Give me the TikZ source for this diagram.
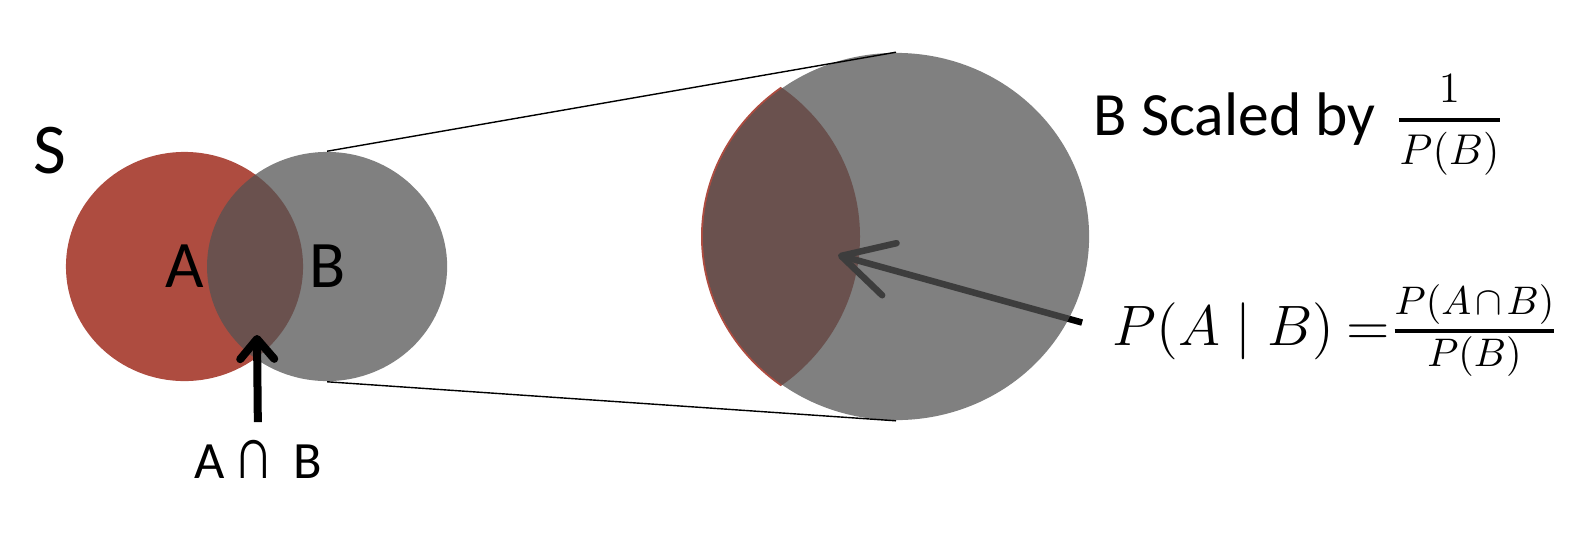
\RequirePackage{fix-cm}
\documentclass[tikz,border=0pt]{standalone}
\usepackage{amsmath}
\usepackage{fontspec}
\setmainfont{Carlito}
\usetikzlibrary{arrows.meta,shapes.geometric}
\usepackage{xcolor}
\definecolor{setred}{RGB}{174,76,64}
\definecolor{setgray}{RGB}{83,83,83}

\begin{document}
\begin{tikzpicture}[x=0.01cm,y=-0.01cm,node distance=1.425cm,
	setA/.style={ellipse,fill=setred,inner sep=0,minimum width=2.37cm,minimum height=2.29cm,font=\fontsize{18.9}{22}\selectfont},
	setB/.style={ellipse,fill=setgray,fill opacity=0.74,text opacity=1,inner sep=0,minimum width=2.40cm,minimum height=2.29cm,font=\fontsize{18.9}{22}\selectfont},
	bigB/.style={ellipse,fill=setgray,fill opacity=0.74,inner sep=0,minimum width=3.86cm,minimum height=3.67cm},
	txt/.style={inner sep=0,anchor=base west},
	capArrow/.style={line width=0.08cm,-{Straight Barb[length=0.2cm,width=0.34cm,round]}},
	condArrow/.style={line width=0.065cm,-{Straight Barb[length=0.5cm,width=0.54cm,round]}}]
	\useasboundingbox (0,0) rectangle (1576,539);

	\node[setA]		(A) at (184.5,266.5)	{A};
	\node[setB]		(B) [right of=A]		{B};
	\node[txt,font=\fontsize{20.3}{24}\selectfont]	(S) at (33,173)	{S};

	\node[txt,anchor=base,font=\fontsize{14.9}{18}\selectfont]	(AnB) at (258,478)
		{A\kern0.1cm\scalebox{1.05}[1.4]{∩}\kern0.2cm B};
	\coordinate	(capTip) at (257,335);
	\draw[capArrow,shorten <=0.17cm]	(AnB.north) -- (capTip);

	\begin{scope}
		\clip (896,236.5) ellipse (195 and 185.5);
		\fill[setred] (670,236.5) ellipse (190 and 184);
	\end{scope}

	\node[txt,font=\fontsize{16.2}{19}\selectfont]	(Pform) at (1112,345)
		{$P(A\mid B)\mkern4mu{=}\genfrac{}{}{1.1pt}{1}{P(A\mkern2mu\cap\mkern2mu B)}{\rule{0pt}{0.3cm}P(B)}$};
	\coordinate	(condTip) at (838,255);
	\draw[condArrow,shorten <=0.31cm]	(Pform.west) -- (condTip);

	\node[bigB]		(Bbig) at (896,236.5)	{};
	\draw[line width=0.4pt]	(B.north) -- (Bbig.north)
			(B.south) -- (Bbig.south);

	\node[txt,font=\fontsize{17.5}{21}\selectfont]	(scaled) at (1093,135)
		{B Scaled by\hspace{0.2cm}$\genfrac{}{}{1.1pt}{1}{1\rule[-0.11cm]{0pt}{0pt}}{\rule{0pt}{0.39cm}P(B)}$};
\end{tikzpicture}
\end{document}
